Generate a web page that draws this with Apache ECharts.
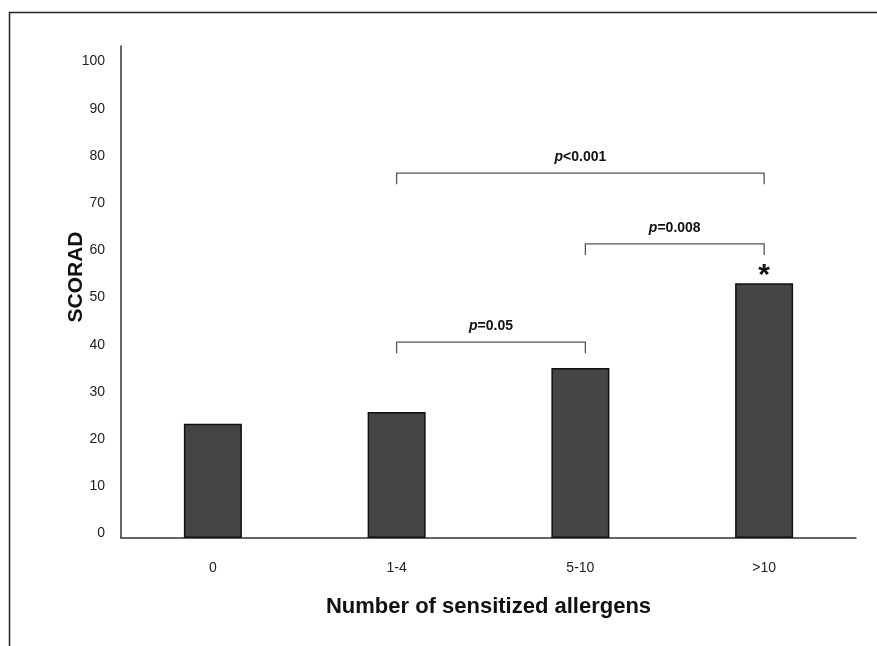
<!DOCTYPE html>
<html>
<head>
<meta charset="utf-8">
<script src="https://cdn.jsdelivr.net/npm/echarts@6/dist/echarts.min.js"></script>
<style>
html,body{margin:0;padding:0;background:#fff;}
#c{width:877px;height:646px;}
</style>
</head>
<body>
<div id="c"></div>
<script>
const categories = ['0', '1-4', '5-10', '>10'];
const scorad = [24.2, 26.7, 36.0, 54.0];
const stars = ['', '', '', '*'];
const yTicks = [0, 10, 20, 30, 40, 50, 60, 70, 80, 90, 100];
// brackets: [fromCategoryIndex, toCategoryIndex, yValue, relation, pValue]
const brackets = [
  [1, 3, 77.3, '<', '0.001'],
  [2, 3, 62.3, '=', '0.008'],
  [1, 2, 41.5, '=', '0.05']
];

const chart = echarts.init(document.getElementById('c'), null, {renderer: 'canvas'});
const FONT = 'Liberation Sans, Arial, sans-serif';

chart.setOption({
  animation: false,
  backgroundColor: '#fff',
  grid: {left: 121, right: 21, top: 46, bottom: 108, containLabel: false},
  xAxis: {
    type: 'category',
    data: categories,
    boundaryGap: true,
    axisLine: {lineStyle: {color: '#333', width: 1.5}},
    axisTick: {show: false},
    axisLabel: {color: '#222', fontSize: 14, fontFamily: FONT, margin: 23},
    name: 'Number of sensitized allergens',
    nameLocation: 'middle',
    nameGap: 58,
    nameMoveOverlap: false,
    nameTextStyle: {color: '#111', fontSize: 22, fontWeight: 'bold', fontFamily: FONT}
  },
  yAxis: {
    type: 'value',
    min: 0,
    max: 104.24,
    interval: 10,
    splitLine: {show: false},
    axisLine: {show: true, lineStyle: {color: '#333', width: 1.5}},
    axisTick: {show: false},
    axisLabel: {
      color: '#222', fontSize: 14, fontFamily: FONT, margin: 16,
      verticalAlign: 'bottom', lineHeight: 9,
      formatter: function (v) { return yTicks.indexOf(v) >= 0 ? String(v) : ''; }
    },
    name: 'SCORAD',
    nameLocation: 'middle',
    nameGap: 34,
    nameMoveOverlap: false,
    nameTextStyle: {color: '#111', fontSize: 21, fontWeight: 'bold', fontFamily: FONT, padding: [0, 0, 0, 30]}
  },
  series: [
    {
      type: 'bar',
      data: scorad,
      barWidth: 58,
      itemStyle: {color: '#454545', borderColor: '#111', borderWidth: 1.5},
      label: {
        show: true,
        position: 'top',
        distance: -8,
        formatter: function (p) { return stars[p.dataIndex]; },
        color: '#111', fontSize: 30, fontWeight: 'bold', fontFamily: FONT
      }
    },
    {
      type: 'custom',
      data: brackets,
      silent: true,
      renderItem: function (params, api) {
        const a = api.coord([api.value(0), api.value(2)]);
        const b = api.coord([api.value(1), api.value(2)]);
        const leg = 11;
        const d = brackets[params.dataIndex];
        const x1 = a[0] + (d[0] === 2 ? 5 : 0);
        const x2 = b[0] + (d[1] === 2 ? 5 : 0);
        const y = a[1];
        return {
          type: 'group',
          children: [
            {
              type: 'polyline',
              shape: {points: [[x1, y + leg], [x1, y], [x2, y], [x2, y + leg]]},
              style: {stroke: '#555', lineWidth: 1.3, fill: null}
            },
            {
              type: 'text',
              x: (x1 + x2) / 2,
              y: y - 16,
              style: {
                text: '{i|p}{b|' + d[3] + d[4] + '}',
                align: 'center',
                verticalAlign: 'middle',
                rich: {
                  i: {fontStyle: 'italic', fontWeight: 'bold', fontSize: 14, fontFamily: FONT, fill: '#111'},
                  b: {fontWeight: 'bold', fontSize: 14, fontFamily: FONT, fill: '#111'}
                }
              }
            }
          ]
        };
      }
    }
  ],
  graphic: [
    {
      type: 'rect',
      shape: {x: 9.5, y: 12.5, width: 900, height: 700},
      style: {stroke: '#222', lineWidth: 1.5, fill: null},
      silent: true
    }
  ]
});
</script>
</body>
</html>
